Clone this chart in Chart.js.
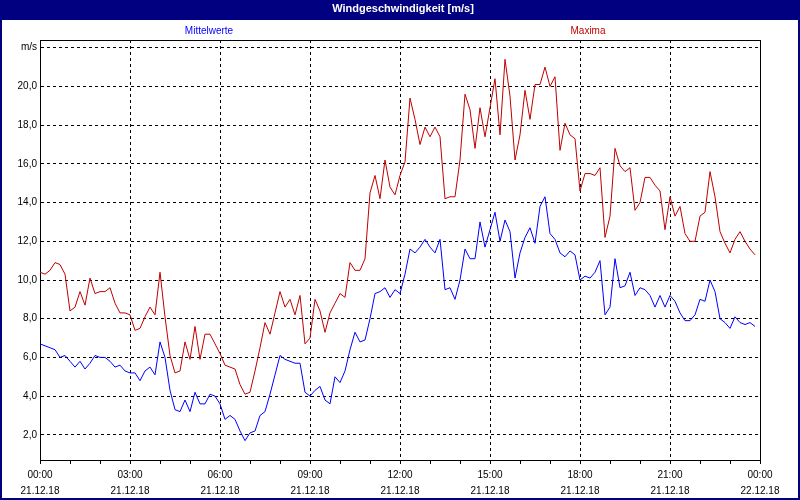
<!DOCTYPE html>
<html>
<head>
<meta charset="utf-8">
<script src="https://cdn.jsdelivr.net/npm/chart.js@4"></script>
<style>
  body { margin: 0; background: #fff; }
  #wrap { width: 800px; height: 500px; }
</style>
</head>
<body>
<div id="wrap"><canvas id="myChart" width="800" height="500"></canvas></div>
<script>
// Windgeschwindigkeit 21.12.18, 10-Minuten-Werte
const chartTitle = 'Windgeschwindigkeit [m/s]'
const seriesNames = ['Mittelwerte', 'Maxima']
const stepMinutes = 10

const mittelwerte = [
  6.7, 6.6, 6.5, 6.4, 6.0, 6.1, 5.8, 5.5, 5.8, 5.4,
  5.7, 6.1, 6.0, 6.0, 5.8, 5.5, 5.6, 5.3, 5.2, 5.2,
  4.8, 5.3, 5.5, 5.1, 6.8, 6.0, 4.3, 3.3, 3.2, 3.8,
  3.2, 4.2, 3.6, 3.6, 4.1, 4.0, 3.6, 2.8, 3.0, 2.8,
  2.2, 1.7, 2.1, 2.2, 3.0, 3.2, 4.1, 5.1, 6.1, 5.9,
  5.8, 5.7, 5.7, 4.2, 4.0, 4.3, 4.5, 3.8, 3.6, 5.0,
  4.7, 5.3, 6.4, 7.3, 6.8, 6.9, 8.0, 9.3, 9.4, 9.6,
  9.1, 9.5, 9.3, 10.3, 11.6, 11.4, 11.7, 12.1, 11.7, 11.4,
  12.1, 9.5, 9.6, 9.0, 10.0, 11.6, 11.1, 11.1, 13.0, 11.7,
  12.6, 13.5, 12.0, 13.1, 12.5, 10.1, 11.4, 12.2, 12.7, 11.9,
  13.8, 14.3, 12.4, 12.1, 11.4, 11.2, 11.5, 11.3, 10.0, 10.2,
  10.1, 10.4, 11.0, 8.2, 8.6, 11.1, 9.6, 9.7, 10.4, 9.2,
  9.6, 9.5, 9.2, 8.6, 9.2, 8.6, 9.2, 8.9, 8.3, 7.9,
  7.9, 8.2, 9.0, 8.9, 10.0, 9.4, 8.0, 7.8, 7.5, 8.1,
  7.8, 7.7, 7.8, 7.6
]

const maxima = [
  10.4, 10.3, 10.5, 10.9, 10.8, 10.3, 8.4, 8.6, 9.4, 8.7,
  10.1, 9.3, 9.4, 9.4, 9.6, 8.8, 8.3, 8.3, 8.2, 7.4,
  7.5, 8.1, 8.6, 8.2, 10.4, 8.1, 6.1, 5.2, 5.3, 6.8,
  5.9, 7.6, 5.9, 7.2, 7.2, 6.7, 6.2, 5.6, 5.5, 5.4,
  4.6, 4.1, 4.2, 5.3, 6.5, 7.8, 7.2, 8.3, 9.4, 8.6,
  9.0, 8.2, 9.2, 6.7, 7.0, 9.0, 8.4, 7.3, 8.3, 8.8,
  9.3, 9.1, 10.9, 10.5, 10.5, 11.1, 14.5, 15.4, 14.2, 16.2,
  14.8, 14.4, 15.4, 16.1, 19.4, 18.3, 17.0, 17.9, 17.4, 17.9,
  17.4, 14.2, 14.3, 14.3, 16.2, 19.6, 18.8, 16.8, 18.9, 17.4,
  18.9, 20.4, 17.5, 21.4, 19.5, 16.2, 17.5, 19.8, 18.3, 20.1,
  20.1, 21.0, 20.0, 20.5, 16.7, 18.1, 17.5, 17.3, 14.6, 15.5,
  15.5, 15.4, 15.8, 12.2, 13.3, 16.8, 15.9, 15.6, 15.8, 13.6,
  14.0, 15.3, 15.3, 14.9, 14.6, 12.6, 14.3, 13.3, 13.8, 12.4,
  12.0, 12.0, 13.3, 13.5, 15.6, 14.3, 12.5, 11.9, 11.4, 12.1,
  12.5, 12.0, 11.6, 11.3
]

// Achsenbeschriftung
const xTimeLabels = ['00:00', '03:00', '06:00', '09:00', '12:00', '15:00', '18:00', '21:00', '00:00']
const xDateLabels = ['21.12.18', '21.12.18', '21.12.18', '21.12.18', '21.12.18', '21.12.18', '21.12.18', '21.12.18', '22.12.18']
const yTicks = [2, 4, 6, 8, 10, 12, 14, 16, 18, 20, 22]
const yUnit = 'm/s'

const blue = '#0000ff'
const red = '#c00000'

function toPoints(values) {
  const pts = []
  for (let i = 0; i < values.length; i++) {
    pts.push({ x: i * stepMinutes / 60, y: values[i] })
  }
  return pts
}

const decor = {
  id: 'decor',
  beforeDraw(chart) {
    const c = chart.ctx
    c.save()
    c.fillStyle = '#fff'
    c.fillRect(0, 0, chart.width, chart.height)
    c.fillStyle = '#000080'
    c.fillRect(0, 0, chart.width, 20)
    c.fillRect(0, 0, 2, chart.height)
    c.fillRect(chart.width - 2, 0, 2, chart.height)
    c.fillRect(0, chart.height - 2, chart.width, 2)
    c.textAlign = 'center'
    c.textBaseline = 'middle'
    c.font = 'bold 11px "Liberation Sans", sans-serif'
    c.fillStyle = '#fff'
    c.fillText(chartTitle, 403, 9)
    c.font = '10px "Liberation Sans", sans-serif'
    c.fillStyle = blue
    c.fillText(seriesNames[0], 209, 31)
    c.fillStyle = red
    c.fillText(seriesNames[1], 588, 31)
    c.restore()
  },
  beforeDatasetsDraw(chart) {
    const a = chart.chartArea
    const c = chart.ctx
    c.save()
    c.strokeStyle = '#000'
    c.lineWidth = 1
    c.strokeRect(Math.round(a.left) + 0.5, Math.round(a.top) + 0.5, Math.round(a.right - a.left), Math.round(a.bottom - a.top))
    c.restore()
  }
}

Chart.defaults.font.family = '"Liberation Sans", sans-serif'
Chart.defaults.font.size = 10
Chart.defaults.color = '#000'

const data = {
  datasets: [{
    label: seriesNames[0],
    data: toPoints(mittelwerte),
    borderColor: blue,
    borderWidth: 1,
    pointRadius: 0,
    tension: 0
  }, {
    label: seriesNames[1],
    data: toPoints(maxima),
    borderColor: red,
    borderWidth: 1,
    pointRadius: 0,
    tension: 0
  }]
}

const config = {
  type: 'line',
  data,
  plugins: [decor],
  options: {
    responsive: false,
    animation: false,
    layout: { padding: { top: 40, right: 40, left: 0, bottom: 0 } },
    plugins: {
      legend: { display: false },
      title: { display: false },
      tooltip: { enabled: false }
    },
    scales: {
      x: {
        type: 'linear',
        min: 0,
        max: 24,
        afterBuildTicks: (scale) => {
          const t = []
          for (let h = 0; h <= 24; h++) t.push({ value: h })
          scale.ticks = t
        },
        afterFit: (scale) => { scale.height = 40 },
        ticks: {
          autoSkip: false,
          maxRotation: 0,
          padding: 3,
          font: { size: 10, lineHeight: 1.6 },
          callback: (v) => (v % 3 === 0 ? [xTimeLabels[v / 3], xDateLabels[v / 3]] : '')
        },
        grid: {
          color: (ctx) => (ctx.tick && ctx.tick.value % 3 === 0 && ctx.tick.value > 0 && ctx.tick.value < 24 ? '#000' : 'rgba(0,0,0,0)'),
          tickColor: '#000',
          tickLength: 4,
          lineWidth: 1
        },
        border: { display: true, color: '#000', dash: [3, 3] }
      },
      y: {
        min: 0.7,
        max: 22.4,
        afterBuildTicks: (scale) => {
          scale.ticks = yTicks.map(v => ({ value: v }))
        },
        afterFit: (scale) => { scale.width = 40 },
        ticks: {
          padding: 3,
          callback: (v) => (v === 22 ? yUnit : v.toFixed(1).replace('.', ','))
        },
        grid: { color: '#000', drawTicks: false, lineWidth: 1 },
        border: { display: true, color: '#000', dash: [3, 3] }
      }
    }
  }
}

const myChart = new Chart(document.getElementById('myChart'), config)
</script>
</body>
</html>
